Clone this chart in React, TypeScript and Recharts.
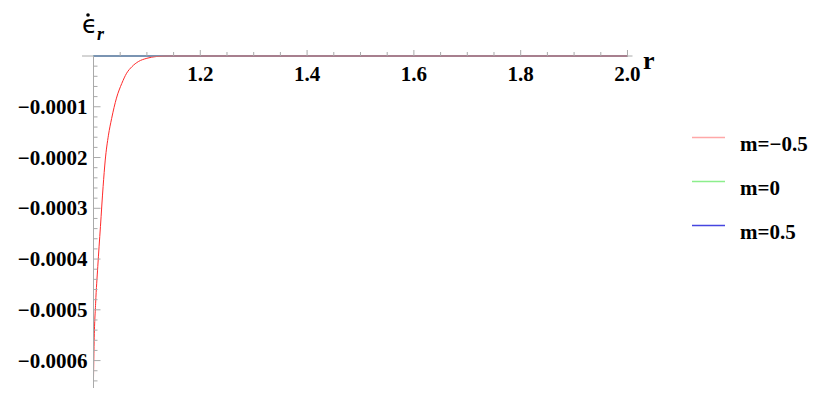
import React from 'react'
import { LineChart, Line, XAxis, YAxis, ReferenceLine } from 'recharts'

// r values sampled along the curve (denser near r = 1 where it bends)
const rValues = [1.0, 1.001, 1.004, 1.008, 1.013, 1.018, 1.022, 1.028, 1.034, 1.043, 1.053, 1.062, 1.072, 1.084, 1.1, 1.118, 1.14, 1.2, 1.4, 1.6, 1.8, 2.0]
const mMinusHalf = [-0.000634, -0.000572, -0.000487, -0.000415, -0.000336, -0.000257, -0.000205, -0.000156, -0.000123, -0.000083, -0.000054, -0.000034, -0.000021, -0.000011, -0.0000045, -0.000001, 0, 0, 0, 0, 0, 0]
const mZero = [0, 0, 0, 0, 0, 0, 0, 0, 0, 0, 0, 0, 0, 0, 0, 0, 0, 0, 0, 0, 0, 0]
const mHalf = [0, 0, 0, 0, 0, 0, 0, 0, 0, 0, 0, 0, 0, 0, 0, 0, 0, 0, 0, 0, 0, 0]

const xMajor = [1.2, 1.4, 1.6, 1.8, 2.0]
const xMajorLabels = ['1.2', '1.4', '1.6', '1.8', '2.0']
const yMajor = [-0.0001, -0.0002, -0.0003, -0.0004, -0.0005, -0.0006]
const yMajorLabels = ['\u22120.0001', '\u22120.0002', '\u22120.0003', '\u22120.0004', '\u22120.0005', '\u22120.0006']

const seriesNames = ['m=\u22120.5', 'm=0', 'm=0.5']
const plotColors = ['#ff2a2a', '#3ccf3c', '#2f5cc4']
const legendColors = ['#ffa8a8', '#8cee8c', '#4646e0']

const data = rValues.map((r, i) => ({ r, a: mMinusHalf[i], b: mZero[i], c: mHalf[i] }))

// minor tick positions
const xTicks: number[] = []
for (let k = 1; k <= 20; k++) xTicks.push(Math.round((1 + k * 0.05) * 1000) / 1000)
const yTicks: number[] = []
for (let k = 0; k <= 32; k++) yTicks.push(Math.round(-k * 0.00002 * 1e7) / 1e7)

const font = '"Liberation Serif", "Times New Roman", serif'

const findMajor = (list: number[], v: number) => list.findIndex((m) => Math.abs(m - v) < 1e-9)

function XTick(props: any) {
  const { x, y, payload } = props
  const idx = findMajor(xMajor, payload.value)
  return (
    <g>
      <line x1={x} x2={x} y1={y} y2={y - (idx >= 0 ? 6 : 4)} stroke="#aaaaaa" strokeWidth={1} />
      {idx >= 0 && (
        <text x={x} y={y + 25} textAnchor="middle" fontFamily={font} fontWeight="bold" fontSize={21} fill="#000">
          {xMajorLabels[idx]}
        </text>
      )}
    </g>
  )
}

function YTick(props: any) {
  const { x, y, payload } = props
  const idx = findMajor(yMajor, payload.value)
  if (Math.abs(payload.value) < 1e-12) return <g />
  return (
    <g>
      <line x1={x} x2={x + (idx >= 0 ? 7 : 4)} y1={y} y2={y} stroke="#aaaaaa" strokeWidth={1} />
      {idx >= 0 && (
        <text x={x - 6} y={y + 7} textAnchor="end" fontFamily={font} fontWeight="bold" fontSize={21} fill="#000">
          {yMajorLabels[idx]}
        </text>
      )}
    </g>
  )
}

function LegendBox() {
  return (
    <svg width={141} height={120} style={{ position: 'absolute', left: 692, top: 125 }}>
      {seriesNames.map((name, i) => (
        <g key={name} transform={`translate(0, ${12.5 + i * 44})`}>
          <line x1={0} x2={33} y1={0} y2={0} stroke={legendColors[i]} strokeWidth={1.3} />
          <text x={48} y={13} fontFamily={font} fontWeight="bold" fontSize={21} fill="#000">{name}</text>
        </g>
      ))}
    </svg>
  )
}

export default function App() {
  return (
    <div style={{ position: 'absolute', left: 0, top: 0, width: 833, height: 402, background: '#fff' }}>
      <LineChart width={833} height={402} data={data} margin={{ top: 26, right: 200.5, bottom: 14, left: 0 }}>
        <XAxis
          dataKey="r"
          type="number"
          orientation="top"
          domain={[1, 2.0094]}
          ticks={xTicks}
          interval={0}
          height={30}
          tickSize={0}
          tickMargin={0}
          tickLine={false}
          axisLine={{ stroke: '#aaaaaa' }}
          tick={<XTick />}
        />
        <YAxis
          type="number"
          domain={[-0.000654, 0]}
          ticks={yTicks}
          interval={0}
          width={93.5}
          tickSize={0}
          tickMargin={0}
          tickLine={false}
          axisLine={{ stroke: '#aaaaaa' }}
          tick={<YTick />}
        />
        <ReferenceLine
          segment={[{ x: 0.9785, y: 0 }, { x: 1, y: 0 }]}
          stroke="#aaaaaa"
          ifOverflow="visible"
        />
        <Line type="monotone" dataKey="b" name={seriesNames[1]} stroke={plotColors[1]} strokeWidth={1.2} dot={false} isAnimationActive={false} />
        <Line type="monotone" dataKey="c" name={seriesNames[2]} stroke={plotColors[2]} strokeWidth={1.3} dot={false} isAnimationActive={false} />
        <Line type="monotone" dataKey="a" name={seriesNames[0]} stroke={plotColors[0]} strokeWidth={1} dot={false} isAnimationActive={false} />
        <text x={82} y={33} fontFamily='"DejaVu Sans", sans-serif' fontSize={25} fill="#000">{'\u03f5'}</text>
        <circle cx={88} cy={15} r={1.8} fill="#000" />
        <text x={97} y={40} fontFamily={font} fontStyle="italic" fontWeight="bold" fontSize={18} fill="#000">r</text>
        <text x={643} y={69} fontFamily={font} fontWeight="bold" fontSize={26} fill="#000">r</text>
      </LineChart>
      <LegendBox />
    </div>
  )
}
